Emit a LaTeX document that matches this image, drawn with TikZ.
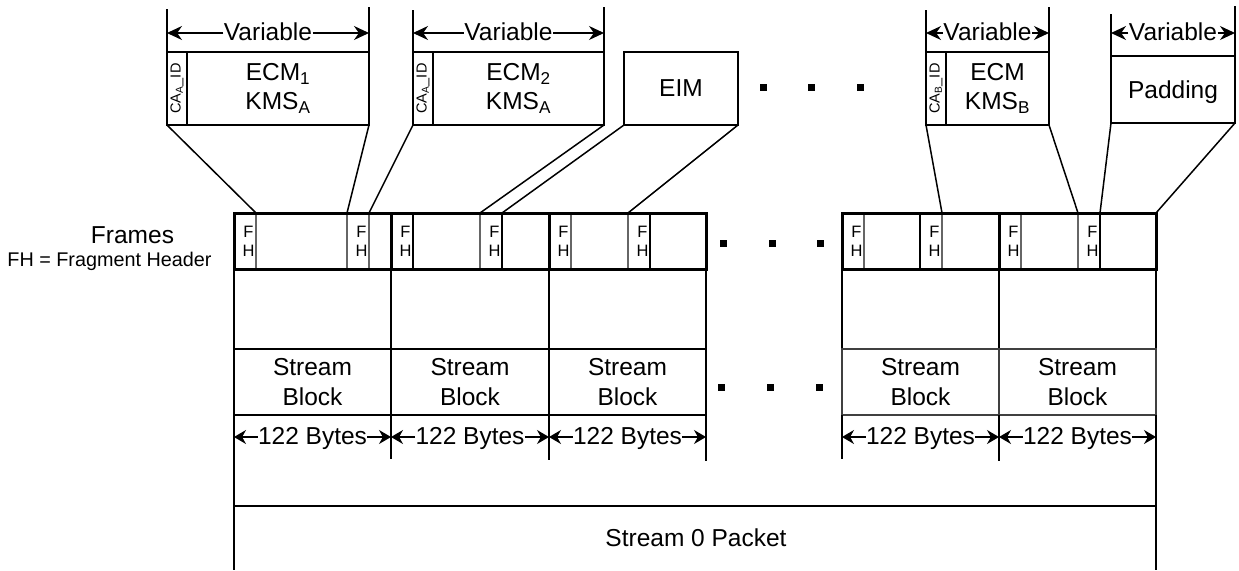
\documentclass[tikz,border=0pt]{standalone}
\usepackage{fontspec}
\setmainfont{Liberation Sans}
\usetikzlibrary{arrows.meta}
\newcommand{\mycell}[6]{% name,x0,y0,x1,y1,style, then the node text
  \pgfmathsetmacro{\cxx}{(#2+#4)/2}\pgfmathsetmacro{\cyy}{(#3+#5)/2}
  \pgfmathsetmacro{\cww}{#4-#2}\pgfmathsetmacro{\chh}{#5-#3}
  \node[cellbox,#6,minimum width=\cww pt,minimum height=\chh pt] (#1) at (\cxx,\cyy)}
\newcommand{\spanarrows}[6]{% name,x0,x1,y,arrowstyle,label
  \pgfmathsetmacro{\cxx}{(#2+#3)/2}
  \node[dimlabel] (#1) at (\cxx,#4) {#6};
  \coordinate (#1L) at (#2,#4);
  \coordinate (#1R) at (#3,#4);
  \draw[#5] (#1) -- (#1L);
  \draw[#5] (#1) -- (#1R);}
\newcommand{\fhtext}{\hspace*{7pt}F\\\hspace*{7pt}H}
\tikzset{
  cellbox/.style={draw=black,line width=1.5pt,inner sep=0pt,outer sep=0pt,align=center,
    font=\fontsize{24.5}{29.5}\selectfont},
  fhcell/.style={line width=1.1pt,draw=black!60,font=\fontsize{16.5}{19}\selectfont},
  fhdark/.style={line width=1.5pt,draw=black},
  idcell/.style={line width=1.5pt},
  framecell/.style={line width=3pt},
  rowcell/.style={line width=1.3pt},
  lightrow/.style={line width=1.1pt,draw=black!75},
  guide/.style={line width=1.3pt,draw=black},
  bigarrow/.style={line width=1.2pt,-{Stealth[length=15pt,width=14pt]}},
  smallarrow/.style={line width=1.2pt,-{Stealth[length=12pt,width=14pt]}},
  dimlabel/.style={inner sep=0.5pt,outer sep=0pt,text height=21pt,text depth=6pt,font=\fontsize{24.5}{29}\selectfont},
  connector/.style={line width=1.5pt,draw=black},
  dot/.style={fill=black,draw=none,minimum size=7pt,inner sep=0pt},
  idtext/.style={inner sep=0pt,rotate=90,font=\fontsize{14.5}{18}\selectfont},
}
\begin{document}
\begin{tikzpicture}[x=1pt,y=-1pt]
\useasboundingbox (0,0) rectangle (1239,570);
% top boxes
\mycell{ecmAid}{167}{52}{187}{125}{idcell}{};
\mycell{ecmA}{187}{52}{369}{125}{}{ECM\textsubscript{1}\\KMS\textsubscript{A}};
\mycell{ecmBid}{413}{52}{433}{125}{idcell}{};
\mycell{ecmB}{433}{52}{604}{125}{}{ECM\textsubscript{2}\\KMS\textsubscript{A}};
\mycell{eim}{624}{52}{738}{125}{}{EIM};
\mycell{ecmCid}{926}{52}{946}{125}{idcell}{};
\mycell{ecmC}{946}{52}{1049}{125}{}{ECM\\KMS\textsubscript{B}};
\mycell{pad}{1111}{56}{1235}{123}{text depth=0pt}{Padding};
\node[idtext] (idA) at (ecmAid) {CA\textsubscript{A}\_ID};
\node[idtext] (idB) at (ecmBid) {CA\textsubscript{A}\_ID};
\node[idtext] (idC) at (ecmCid) {CA\textsubscript{B}\_ID};
% variable guides
\coordinate (ta1) at (167,9); \coordinate (ta2) at (369,7);
\coordinate (tb1) at (413,10); \coordinate (tb2) at (604,7);
\coordinate (tc1) at (926,10); \coordinate (tc2) at (1049,7);
\coordinate (td1) at (1111,14); \coordinate (td2) at (1235,6);
\draw[guide] (ta1) -- (ecmAid.north west);
\draw[guide] (ta2) -- (ecmA.north east);
\draw[guide] (tb1) -- (ecmBid.north west);
\draw[guide] (tb2) -- (ecmB.north east);
\draw[guide] (tc1) -- (ecmCid.north west);
\draw[guide] (tc2) -- (ecmC.north east);
\draw[guide] (td1) -- (pad.north west);
\draw[guide] (td2) -- (pad.north east);
\spanarrows{va}{167}{369}{33}{bigarrow}{Variable}
\spanarrows{vb}{413}{604}{33}{bigarrow}{Variable}
\spanarrows{vc}{926}{1049}{33}{bigarrow}{Variable}
\spanarrows{vd}{1111}{1235}{33}{bigarrow}{Variable}
% frame row: FH cells
\mycell{f1a}{234}{213}{256}{269}{fhcell}{\fhtext};
\mycell{f1b}{347}{213}{369}{269}{fhcell}{\fhtext};
\mycell{f2a}{391}{213}{413}{269}{fhcell}{\fhtext};
\mycell{f2b}{480}{213}{502}{269}{fhcell}{\fhtext};
\mycell{f3a}{549}{213}{571}{269}{fhcell}{\fhtext};
\mycell{f3b}{628}{213}{650}{269}{fhcell}{\fhtext};
\mycell{f4a}{842}{213}{864}{269}{fhcell}{\fhtext};
\mycell{f4b}{920}{213}{942}{269}{fhcell}{\fhtext};
\mycell{f5a}{999}{213}{1021}{269}{fhcell}{\fhtext};
\mycell{f5b}{1078}{213}{1100}{269}{fhcell}{\fhtext};
\draw[fhdark] (f2a.north east) -- (f2a.south east);
\draw[fhdark] (f2b.north east) -- (f2b.south east);
\draw[fhdark] (f3b.north east) -- (f3b.south east);
\draw[fhdark] (f4b.north west) -- (f4b.south west);
\draw[fhdark] (f5b.north east) -- (f5b.south east);
% empty row and stream blocks
\mycell{e1}{234}{269}{391}{349}{rowcell}{};
\mycell{e2}{391}{269}{549}{349}{rowcell}{};
\mycell{e3}{549}{269}{706}{349}{rowcell}{};
\mycell{e4}{842}{269}{999}{349}{rowcell}{};
\mycell{e5}{999}{269}{1156}{349}{rowcell}{};
\mycell{s1}{234}{349}{391}{415}{rowcell}{Stream\\Block};
\mycell{s2}{391}{349}{549}{415}{rowcell}{Stream\\Block};
\mycell{s3}{549}{349}{706}{415}{rowcell}{Stream\\Block};
\mycell{s4}{842}{349}{999}{415}{lightrow}{Stream\\Block};
\mycell{s5}{999}{349}{1156}{415}{lightrow}{Stream\\Block};
% frame outlines on top
\mycell{fr1}{234}{213}{391}{269}{framecell}{};
\mycell{fr2}{391}{213}{549}{269}{framecell}{};
\mycell{fr3}{549}{213}{706}{269}{framecell}{};
\mycell{fr4}{842}{213}{999}{269}{framecell}{};
\mycell{fr5}{999}{213}{1156}{269}{framecell}{};
% byte dimensions
\spanarrows{b1}{234}{391}{437}{smallarrow}{122 Bytes}
\spanarrows{b2}{391}{549}{437}{smallarrow}{122 Bytes}
\spanarrows{b3}{549}{706}{437}{smallarrow}{122 Bytes}
\spanarrows{b4}{842}{999}{437}{smallarrow}{122 Bytes}
\spanarrows{b5}{999}{1156}{437}{smallarrow}{122 Bytes}
\coordinate (t2) at (391,459); \coordinate (t3) at (549,460); \coordinate (t4) at (706,461);
\coordinate (t5) at (842,459); \coordinate (t6) at (999,461);
\draw[guide] (s1.south east) -- (t2);
\draw[guide] (s2.south east) -- (t3);
\draw[guide] (s3.south east) -- (t4);
\draw[guide] (s4.south west) -- (t5);
\draw[guide] (s5.south west) -- (t6);
% packet
\node[inner sep=0pt,font=\fontsize{24.5}{29}\selectfont] (pkt) at (696,538) {Stream 0 Packet};
\coordinate (pl) at (234,506); \coordinate (pr) at (1156,506);
\coordinate (bl) at (234,570); \coordinate (br) at (1156,570);
\draw[line width=1.5pt] (pl) -- (pr);
\draw[line width=1.5pt] (s1.south west) -- (bl);
\draw[line width=1.5pt] (s5.south east) -- (br);
% labels
\node[inner sep=0pt,font=\fontsize{24.5}{29}\selectfont] (frames) at (132.5,235) {Frames};
\node[inner sep=0pt,font=\fontsize{19.8}{24}\selectfont] (fhnote) at (109.5,261) {FH = Fragment Header};
% connectors
\draw[connector] (ecmAid.south west) -- (f1a.north east);
\draw[connector] (ecmA.south east) -- (f1b.north west);
\draw[connector] (ecmBid.south west) -- (f1b.north east);
\draw[connector] (ecmB.south east) -- (f2b.north west);
\draw[connector] (eim.south west) -- (f2b.north east);
\draw[connector] (eim.south east) -- (f3b.north west);
\draw[connector] (ecmCid.south west) -- (f4b.north east);
\draw[connector] (ecmC.south east) -- (f5b.north west);
\draw[connector] (pad.south west) -- (f5b.north east);
\draw[connector] (pad.south east) -- (fr5.north east);
% dots
\foreach \nm/\px/\py in {d1/763/87,d2/811/87,d3/860/87,d4/723/243,d5/772/243,d6/820/243,d7/721/387,d8/770/387,d9/819/387}
  \node[dot] (\nm) at (\px,\py) {};
\end{tikzpicture}
\end{document}
